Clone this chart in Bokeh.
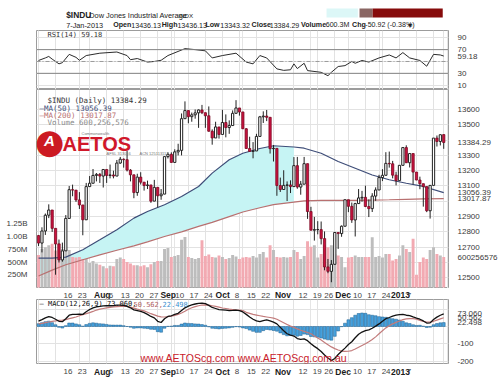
from bokeh.plotting import figure
from bokeh.layouts import column
from bokeh.models import Range1d, LinearAxis, FixedTicker, Label, Grid, Span
from bokeh.core.properties import value
from bokeh.embed import file_html
from bokeh.resources import INLINE

# ---------------- data (Dow Jones Industrial Average, daily) ----------------
OPEN = [12776,12727,12806,12909,12943,12823,12721,12617,12676,12888,
        13076,13073,13009,12976,12879,13096,13118,13169,13176,13165,
        13208,13169,13172,13165,13250,13275,13272,13204,13173,13057,
        13158,13125,13103,13107,13001,13091,13036,13047,13292,13307,
        13254,13323,13333,13540,13593,13553,13565,13578,13597,13579,
        13559,13458,13414,13486,13437,13515,13482,13495,13575,13610,
        13584,13474,13345,13326,13329,13424,13552,13557,13549,13344,
        13346,13103,13077,13104,13107,13096,13233,13093,13112,13246,
        12933,12811,12815,12815,12756,12571,12542,12588,12796,12789,
        12837,13010,12967,12878,12985,13022,13026,12966,12952,13034,
        13074,13155,13170,13248,13245,13171,13135,13235,13351,13252,
        13312,13191,13139,13115,13096,12938,13104,13413,13391,13436]
HIGH = [12780,12830,12920,12980,12943,12822,12750,12730,12910,13100,
        13109,13073,13060,12976,13120,13165,13211,13185,13185,13210,
        13208,13240,13200,13270,13290,13280,13330,13210,13173,13180,
        13190,13125,13135,13107,13140,13091,13080,13293,13320,13320,
        13340,13376,13574,13653,13593,13580,13600,13600,13630,13580,
        13620,13470,13520,13486,13598,13568,13529,13594,13661,13610,
        13584,13478,13422,13387,13441,13558,13588,13597,13549,13368,
        13346,13155,13203,13130,13137,13289,13290,13133,13290,13246,
        12964,12898,12870,12868,12803,12623,12616,12800,12797,12842,
        13010,13010,12992,12990,13080,13068,13102,13012,13053,13091,
        13173,13210,13321,13325,13264,13193,13236,13351,13366,13312,
        13312,13191,13161,13115,13096,13104,13413,13430,13437,13436]
LOW = [12708,12666,12780,12890,12800,12520,12600,12605,12676,12888,
       13033,12996,12950,12778,12879,13096,13118,13130,13120,13090,
       13120,13150,13150,13165,13245,13220,13195,13130,13020,13036,
       13110,13070,13080,12990,13001,12960,13010,13047,13280,13254,
       13254,13300,13300,13540,13510,13520,13540,13480,13570,13480,
       13455,13370,13414,13410,13437,13418,13441,13495,13575,13560,
       13473,13344,13326,13281,13329,13424,13512,13524,13312,13260,
       13036,13061,13077,13002,13054,13096,13082,13043,13112,12885,
       12811,12743,12784,12718,12549,12530,12471,12588,12689,12768,
       12837,12929,12859,12770,12985,12997,12962,12897,12930,13003,
       13074,13132,13170,13220,13150,13104,13135,13235,13251,13221,
       13111,13138,13079,12965,12929,12887,13104,13358,13365,13343]
CLOSE = [12727,12806,12909,12943,12823,12721,12617,12676,12888,13076,
         13073,13009,12976,12879,13096,13118,13169,13176,13165,13208,
         13169,13172,13165,13250,13275,13272,13204,13173,13057,13158,
         13125,13103,13107,13001,13091,13036,13047,13292,13307,13254,
         13323,13333,13540,13593,13553,13565,13578,13597,13579,13559,
         13458,13414,13486,13437,13515,13482,13495,13575,13610,13584,
         13474,13345,13326,13329,13424,13552,13557,13549,13344,13346,
         13103,13077,13104,13107,13096,13233,13093,13112,13246,12933,
         12811,12815,12815,12756,12571,12542,12588,12796,12789,12837,
         13010,12967,12878,12985,13022,13026,12966,12952,13034,13074,
         13155,13170,13248,13245,13171,13135,13235,13351,13252,13312,
         13191,13139,13115,13096,12938,13104,13413,13391,13435,13384.29]
VOLUME_M = [640,760,790,830,860,730,870,760,760,740,
            600,590,600,560,560,480,520,470,450,420,
            380,430,420,560,590,560,500,470,440,440,
            420,440,400,460,500,520,520,760,780,600,
            620,640,940,995,600,580,560,580,930,620,
            650,600,590,630,600,560,580,640,610,560,
            590,600,590,620,590,660,700,590,830,740,
            600,590,600,590,600,740,700,560,620,910,
            800,830,590,660,830,790,830,660,630,600,
            400,590,600,630,600,600,600,600,990,600,
            620,590,660,660,530,560,630,830,760,700,
            960,250,500,590,560,740,790,660,630,600.256576]

MA_IDX = [0,4,8,13,18,23,28,32,37,42,47,51,56,60,65,69,75,78,83,88,93,98,103,108,113,119]
MA50 = [12628,12628,12635,12683,12748,12814,12890,12933,12977,13031,13097,13184,13271,
        13314,13345,13363,13355,13347,13314,13260,13216,13172,13141,13118,13097,13056.39]
MA200 = [12512,12550,12585,12618,12650,12680,12709,12735,12770,12800,12836,12862,12900,
         12930,12958,12978,12995,13003,13006,13006,13006,13008,13010,13013,13016,13017.87]
FILL_END = 75

RSI_IDX = [0,2,3,4,6,7,9,11,12,14,18,23,26,27,29,32,34,36,38,43,46,49,51,54,58,61,63,65,67,70,
           72,74,75,76,78,79,83,85,86,88,90,92,93,95,97,100,103,105,107,109,112,114,116,118,119]
RSI_VAL = [51.7,56,58.5,54,46,48,62,57,52,60,64,66,60,53,55,49,50,52,60,71.7,70,68,56,60,64,49,46,60,56,37.5,
           35,36,46,38,47,34.6,31.7,26,31.7,41.5,43,50,47,51.7,49,56,61,56,65,56,51.7,42,62,61,59.18]

MACD = [31,40,50,57,52,42,30,28,45,65,
        70,70,72,70,85,98,108,114,116,119,
        120,120,121,123,124,122,116,108,96,92,
        87,80,70,58,50,30,23,45,58,62,
        70,76,92,108,118,125,130,134,135,132,
        122,110,104,98,96,94,92,93,95,92,
        84,70,55,42,32,28,34,38,32,25,
        15,-5,-25,-42,-50,-55,-70,-74,-72,-82,
        -100,-115,-128,-145,-165,-182,-197,-185,-162,-143,
        -125,-104,-88,-65,-45,-32,-24,-20,-10,2,
        15,30,45,52,60,66,69,70,65,63,
        55,48,42,32,20,21,40,54,65,73.06]
SIGNAL = [15,18,22,26,30,32,35,37,40,45,
          50,55,62,68,74,80,87,95,100,104,
          108,111,113,115,116,117,116,112,106,100,
          95,90,82,74,67,60,56,55,57,60,
          64,70,78,88,100,108,115,120,124,125,
          124,120,116,112,107,104,100,98,96,95,
          92,82,76,70,66,62,58,55,52,48,
          42,32,22,12,2,-5,-14,-22,-28,-35,
          -42,-55,-66,-78,-92,-105,-118,-128,-136,-142,
          -144,-143,-139,-130,-120,-110,-100,-88,-75,-60,
          -42,-25,-8,5,15,24,32,40,44,46,
          45,42,35,30,26,25,30,37,44,50.562]

TICK_IDX = [0,5,12,15,20,25,30,35,39,44,49,54,59,64,69,75,82,87,91,96,101,106,111,116,119]
TICK_LABELS = ["16","23","Aug","6","13","20","27","Sep","10","17","24","Oct","8","15","22",
               "Nov","12","19","26","Dec","10","17","24","2013","7"]
MONTHS = ["Aug","Sep","Oct","Nov","Dec","2013"]

PRICE_GRID = [12500,12600,12700,12800,12900,13000,13100,13200,13300,13400,13500,13600]
PRICE_TICKS = [12500,12700,12800,12900,13100,13200,13300,13500,13600]
VOL_TICKS = [250e6,500e6,750e6,1000e6,1250e6]
VOL_TICK_LABELS = ["250M","500M","750M","1.00B","1.25B"]
RSI_GRID = [10,30,50,70,90]
RSI_TICKS = [10,30,70,90]
MACD_GRID = [-200,-100,0,100]
MACD_TICKS = [-200,-100]

LAST_CLOSE = 13384.29
LAST_MA50 = 13056.39
LAST_MA200 = 13017.87
LAST_VOL = 600256576
LAST_RSI = 59.18
LAST_MACD, LAST_SIG, LAST_HIST = 73.060, 50.562, 22.498

# ---------------- layout constants ----------------
N = len(CLOSE)
IDX = list(range(N))
W, LB, RB = 500, 36, 43
FW = W - LB - RB
FONT = "Liberation Sans"
MONO = "DejaVu Sans Mono"
GRID = "#e2e2e2"
FRAME = "#9c9c9c"
TXT = "#333333"
RED = "#cc1240"
MA50_C = "#3e4d78"
MA200_C = "#b87070"

xr = Range1d(-0.6, 120.4)
PX = FW / (xr.end - xr.start)


def style_axis(ax):
    ax.axis_line_color = None
    ax.major_tick_line_color = None
    ax.minor_tick_line_color = None
    ax.major_label_text_font = FONT
    ax.major_label_text_font_size = "8px"
    ax.major_label_text_color = "#3a3a3a"
    ax.major_label_standoff = 3


def make_panel(height, yr, grid_ticks, ticks, labels, bottom=0):
    p = figure(width=W, height=height, x_range=xr, y_range=yr,
               x_axis_location=None, y_axis_location="right",
               toolbar_location=None, output_backend="svg",
               min_border_left=LB, min_border_right=RB,
               min_border_top=0, min_border_bottom=bottom)
    p.outline_line_color = FRAME
    p.add_layout(Grid(dimension=0, ticker=FixedTicker(ticks=TICK_IDX), grid_line_color=GRID))
    ya = p.yaxis[0]
    ya.ticker = FixedTicker(ticks=ticks)
    ya.major_label_overrides = {t: l for t, l in zip(ticks, labels)}
    style_axis(ya)
    p.ygrid.ticker = FixedTicker(ticks=grid_ticks)
    p.ygrid.grid_line_color = GRID
    return p


def date_strip(height):
    s = figure(width=W, height=height,
               x_range=Range1d(xr.start - LB / PX, xr.end + RB / PX), y_range=Range1d(0, 1),
               x_axis_location=None, y_axis_location=None, toolbar_location=None,
               output_backend="svg", min_border=0)
    s.outline_line_color = None
    s.grid.visible = False
    styles = ["bold" if l in MONTHS else "normal" for l in TICK_LABELS]
    colors = ["#1a1a1a" if l in MONTHS else "#444444" for l in TICK_LABELS]
    sizes = ["8.5px" if l in MONTHS else "8px" for l in TICK_LABELS]
    s.text(x=TICK_IDX, y=[0.5] * len(TICK_IDX), text=TICK_LABELS, text_font=value(FONT),
           text_font_size=sizes, text_font_style=styles, text_color=colors,
           text_align="center", text_baseline="middle")
    return s


def slabel(p, x, y, text, size="7.5px", color=TXT, font=FONT, style="normal",
           align="left"):
    p.add_layout(Label(x=x, y=y, x_units="screen", y_units="screen", text=text,
                       text_font=font, text_font_size=size, text_color=color,
                       text_font_style=style, text_align=align, text_baseline="middle"))


# ---------------- header ----------------
HH = 30
h = figure(width=W, height=HH, x_range=Range1d(0, W), y_range=Range1d(HH, 0),
           x_axis_location=None, y_axis_location=None, toolbar_location=None,
           output_backend="svg", min_border=0)
h.outline_line_color = None
h.grid.visible = False
h.quad(left=[352, 392, 408], right=[390, 408, 493], top=[8, 8, 8], bottom=[17, 17, 17],
       fill_color=["#dcf7f7", "#8a6663", "#860b0b"], line_color=None)


def htxt(x, y, t, size, bold=False, color="#222222"):
    h.add_layout(Label(x=x, y=y, text=t, text_font=FONT, text_font_size=size,
                       text_font_style="bold" if bold else "normal", text_color=color,
                       text_baseline="middle", text_align="left"))


htxt(36, 14.5, "$INDU", "8.4px", True)
htxt(64, 14.5, "Dow Jones Industrial Average", "7.4px")
htxt(172, 15, "INDX", "6.2px")
htxt(36, 24.5, "7-Jan-2013", "7.3px")
htxt(93, 24.5, "Open", "7.1px", True)
htxt(115, 24.5, "13436.13", "7.1px")
htxt(152, 24.5, "High", "7.1px", True)
htxt(171, 24.5, "13436.13", "7.1px")
htxt(205, 24.5, "Low", "7.1px", True)
htxt(223, 24.5, "13343.32", "7.1px")
htxt(261, 24.5, "Close", "7.1px", True)
htxt(283, 24.5, "13384.29", "7.1px")
htxt(321, 24.5, "Volume", "7.1px", True)
htxt(351, 24.5, "600.3M", "7.1px")
htxt(383, 24.5, "Chg", "7.1px", True)
htxt(399, 24.5, "-50.92 (-0.38%)", "7.1px")
htxt(451, 24.5, "\u25be", "8px")

# ---------------- RSI panel ----------------
r = make_panel(59, Range1d(2.7, 102.3), RSI_GRID,
               RSI_TICKS + [LAST_RSI], [str(t) for t in RSI_TICKS] + ["%.2f" % LAST_RSI])
r.add_layout(Span(location=70, dimension="width", line_color="#858585", line_width=1))
r.add_layout(Span(location=30, dimension="width", line_color="#858585", line_width=1))
r.add_layout(Span(location=50, dimension="width", line_color="#9a9a9a", line_width=1,
                  line_dash="4 2 1 2"))
r.line(RSI_IDX, RSI_VAL, line_color="#2b2b2b", line_width=1)
slabel(r, 11, 55, "RSI(14) 59.18", size="7px", font=MONO)

# ---------------- price panel ----------------
PR = (12430, 13730.7)
VR = (-19.7e6, 3897.6e6)
vol_as_price = PR[0] + (LAST_VOL - VR[0]) * (PR[1] - PR[0]) / (VR[1] - VR[0])
ptk = PRICE_TICKS + [LAST_CLOSE, LAST_MA50, LAST_MA200, vol_as_price]
plb = [str(t) for t in PRICE_TICKS] + ["%.2f" % LAST_CLOSE, "%.2f" % LAST_MA50,
                                       "%.2f" % LAST_MA200, str(LAST_VOL)]
p = make_panel(199, Range1d(*PR), PRICE_GRID, ptk, plb)
p.extra_y_ranges = {"vol": Range1d(*VR)}
va = LinearAxis(y_range_name="vol", ticker=FixedTicker(ticks=VOL_TICKS),
                major_label_overrides={int(t): l for t, l in zip(VOL_TICKS, VOL_TICK_LABELS)})
style_axis(va)
p.add_layout(va, "left")

k = MA_IDX.index(FILL_END) + 1
p.varea(x=MA_IDX[:k], y1=MA200[:k], y2=MA50[:k], fill_color="#c6f4f4")

vol = [v * 1e6 for v in VOLUME_M]
vcol = ["#f2aab2" if c < o else "#bdbdbd" for o, c in zip(OPEN, CLOSE)]
p.vbar(x=IDX, top=vol, bottom=0, width=0.86, fill_color=vcol, line_color=None,
       y_range_name="vol")

p.line(MA_IDX, MA200, line_color=MA200_C, line_width=1.2)
p.line(MA_IDX, MA50, line_color=MA50_C, line_width=1.2)

p.segment(x0=IDX, y0=LOW, x1=IDX, y1=HIGH, line_color="#222222", line_width=1)
up = [i for i in IDX if CLOSE[i] >= OPEN[i]]
dn = [i for i in IDX if CLOSE[i] < OPEN[i]]
p.vbar(x=up, top=[CLOSE[i] for i in up], bottom=[OPEN[i] for i in up], width=0.66,
       fill_color="white", line_color="#222222", line_width=1)
p.vbar(x=dn, top=[OPEN[i] for i in dn], bottom=[CLOSE[i] for i in dn], width=0.66,
       fill_color=RED, line_color="#7a0a22", line_width=0.8)

slabel(p, 11, 188, "$INDU (Daily) 13384.29", size="7.5px", font=MONO)
slabel(p, 3, 180.5, "\u2014MA(50) 13056.39", size="7.5px", font=MONO, color=MA50_C)
slabel(p, 3, 173, "\u2014MA(200) 13017.87", size="7.5px", font=MONO, color=MA200_C)
slabel(p, 11, 166, "Volume 600,256,576", size="7.5px", font=MONO, color="#8a8a8a")

# AETOS logo
slabel(p, 13, 148, "\u25cf", size="34px", color="#cc1a22", font="DejaVu Sans", align="center")
slabel(p, 13, 148, "A", size="15px", color="white", style="bold italic", align="center")
slabel(p, 26, 145, "AETOS", size="20px", color="#d0182a", style="bold")
slabel(p, 45, 155, "Commonwealth", size="4px", color="#777777")
slabel(p, 70, 135, "AFSL 313016", size="4px", color="#777777")
slabel(p, 103, 135, "ACN 125113117", size="4px", color="#777777")

s1 = date_strip(11)

# ---------------- MACD panel ----------------
m = make_panel(66, Range1d(-213.9, 156), MACD_GRID,
               MACD_TICKS + [LAST_MACD, LAST_SIG, LAST_HIST],
               [str(t) for t in MACD_TICKS] + ["%.3f" % LAST_MACD, "%.3f" % LAST_SIG,
                                               "%.3f" % LAST_HIST], bottom=2)
hist = [a - b for a, b in zip(MACD, SIGNAL)]
m.vbar(x=IDX, top=hist, bottom=0, width=0.85, fill_color="#46a0dc", line_color="#1d5f8e",
       line_width=0.5)
m.line(IDX, SIGNAL, line_color="#c27b7b", line_width=1.2)
m.line(IDX, MACD, line_color="#111111", line_width=1.3)
slabel(m, 3, 60, "\u2014 MACD(12,26,9) 73.060,", size="7px", font=MONO, color="#111111")
slabel(m, 97, 60, "50.562,", size="7px", font=MONO, color="#b06060")
slabel(m, 126, 60, "22.498", size="7px", font=MONO, color="#3a8fcf")
slabel(m, 104, 6, "www.AETOScg.com  www.AETOScg.com.au", size="10.5px", color="#c8202a")

s2 = date_strip(12)

layout = column(h, r, p, s1, m, s2, spacing=0)
open("out.html", "w").write(file_html(layout, INLINE))
